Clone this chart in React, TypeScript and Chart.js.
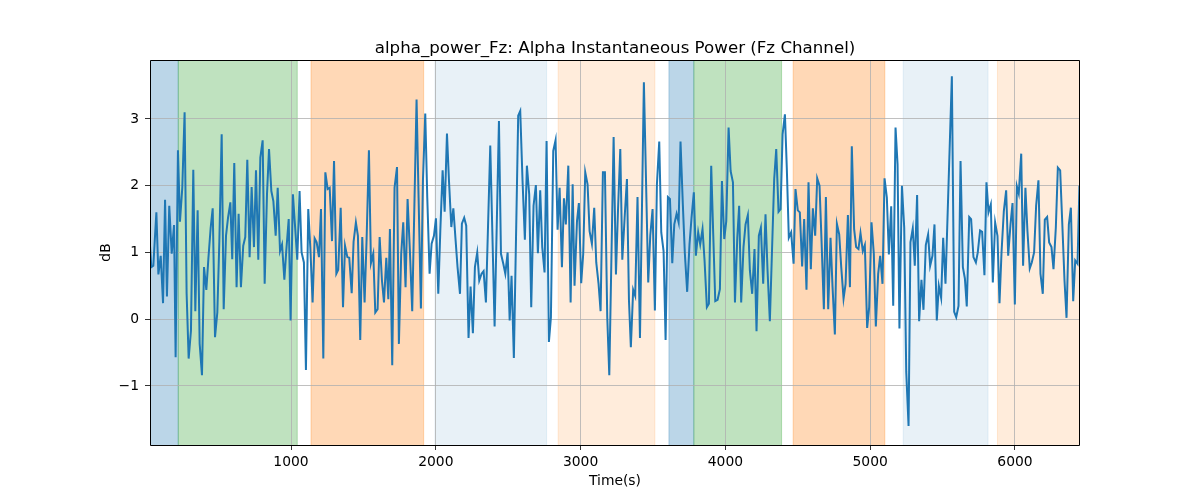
import React, { useEffect, useRef } from "react";
import { Chart, registerables } from "chart.js";

Chart.register(...registerables);

const timeSec: number[] = [
  26, 35, 49, 70, 84, 100, 116, 130, 143, 159, 176, 192, 203, 219, 233, 249, 265, 279, 293, 309,
  325, 339, 355, 369, 385, 399, 415, 429, 445, 459, 475, 491, 505, 521, 535, 551, 565, 581, 594, 608,
  624, 638, 654, 670, 684, 698, 714, 728, 744, 758, 774, 788, 804, 818, 834, 848,
  864, 878, 894, 908, 924, 938, 954, 967, 984, 997, 1013, 1027, 1043, 1059, 1073, 1089, 1103, 1119, 1133, 1149,
  1163, 1177, 1193, 1207, 1223, 1237, 1253, 1267, 1283, 1297, 1313, 1326, 1343, 1359, 1373, 1389, 1402, 1419, 1432, 1448,
  1462, 1478, 1492, 1508, 1522, 1538, 1552, 1568, 1582, 1598, 1612, 1628, 1642, 1658, 1672, 1683,
  1699, 1715, 1732, 1745, 1761, 1775, 1791, 1805, 1821, 1837, 1867, 1881, 1897, 1911, 1927, 1941, 1957, 1971, 1987, 2001,
  2017, 2031, 2047, 2061, 2077, 2091, 2107, 2121, 2137, 2150, 2167, 2180, 2196, 2210, 2226, 2240, 2256, 2270, 2286, 2300,
  2316, 2330, 2346, 2376, 2406, 2436, 2450, 2466, 2480, 2496, 2510,
  2523, 2539, 2569, 2583, 2599, 2615, 2629, 2645, 2659, 2675, 2691, 2705, 2721, 2735, 2751, 2765, 2781, 2795, 2811, 2827,
  2841, 2855, 2871, 2885, 2898, 2915, 2931, 2945, 2958, 2975, 2988, 3004, 3018, 3032, 3048, 3062, 3078, 3094, 3108, 3124,
  3138, 3154, 3168, 3184, 3198, 3228, 3244, 3258, 3274, 3288, 3304, 3320,
  3334, 3347, 3363, 3377, 3393, 3410, 3437, 3467, 3481, 3497, 3513, 3527, 3543, 3557, 3573, 3587, 3603, 3617, 3633, 3647,
  3663, 3677, 3690, 3706, 3720, 3736, 3752, 3766, 3782, 3796, 3812, 3826, 3842, 3856, 3872, 3886, 3902, 3916, 3930, 3946,
  3962, 3976, 3992, 4006, 4022, 4036, 4052, 4066, 4082, 4095, 4109, 4125, 4139, 4155,
  4169, 4185, 4201, 4215, 4231, 4245, 4261, 4277, 4291, 4307, 4337, 4351, 4367, 4381, 4395, 4411, 4424, 4438, 4454, 4471,
  4484, 4500, 4514, 4530, 4544, 4560, 4574, 4590, 4604, 4620, 4634, 4650, 4664, 4680, 4694, 4710, 4726, 4740, 4756, 4770,
  4786, 4800, 4816, 4830, 4846, 4860, 4873, 4889, 4903, 4919, 4933, 4949, 4963, 4979, 4993,
  5009, 5025, 5039, 5055, 5069, 5085, 5099, 5115, 5129, 5145, 5159, 5175, 5189, 5202, 5219, 5235, 5249, 5265, 5278, 5294,
  5308, 5324, 5338, 5354, 5368, 5384, 5400, 5414, 5430, 5444, 5460, 5474, 5490, 5504, 5520, 5564, 5580, 5594, 5610, 5624,
  5640, 5654, 5667, 5684, 5697, 5713, 5730, 5743, 5759, 5773, 5789, 5803, 5817,
  5833, 5847, 5863, 5879, 5893, 5907, 5923, 5939, 5953, 5969, 5983, 5999, 6013, 6026, 6043, 6056, 6072, 6086, 6102, 6116,
  6132, 6146, 6162, 6176, 6192, 6206, 6222, 6236, 6252, 6266, 6282, 6296, 6312, 6326, 6342, 6356, 6372, 6386, 6402, 6416,
  6432, 6445,
];

const alphaPowerDb: number[] = [
  1.1, 0.78, 0.8, 1.6, 0.67, 0.95, 0.24, 1.79, 0.34, 1.7, 0.98, 1.41, -0.57, 2.53, 1.46, 1.97, 3.1, 0.38, -0.59, -0.17,
  2.24, 0.12, 1.63, -0.37, -0.84, 0.78, 0.44, 0.9, 1.37, 1.66, -0.27, 0.1, 1.17, 2.77, 0.15, 1.25, 1.52, 1.75, 0.9, 2.34,
  0.48, 1.58, 0.48, 1.1, 1.23, 2.39, 0.93, 1.98, 1.08, 2.23, 0.89, 2.42, 2.68, 0.53, 1.87, 2.55,
  1.92, 1.77, 1.25, 1.97, 1.02, 1.12, 0.59, 1.02, 1.5, -0.02, 1.87, 1.42, 0.89, 1.92, 1.0, 0.85, -0.76, 1.65, 1.08, 0.25,
  1.21, 1.15, 0.93, 1.65, -0.59, 2.2, 1.95, 1.97, 1.17, 2.37, 0.68, 0.74, 1.67, 0.18, 1.1, 0.93, 0.92, 0.39, 1.16, 1.45,
  1.25, -0.31, 1.23, 0.25, 1.2, 2.53, 0.84, 0.98, 0.1, 0.15, 1.23, 0.58, 0.25, 0.92, 0.3, 1.35,
  -0.69, 1.97, 2.28, -0.37, 0.98, 1.45, 0.48, 1.8, 1.02, 0.12, 3.29, 1.82, 0.16, 2.07, 3.08, 1.82, 0.68, 1.13, 1.25, 1.51,
  0.38, 1.32, 2.23, 1.61, 2.78, 2.07, 1.38, 1.66, 1.17, 0.78, 0.38, 1.43, 1.52, 1.4, -0.28, 0.49, -0.21, 0.78, 1.0, 0.58,
  0.68, 0.72, 0.25, 2.6, -0.11, 2.97, 0.98, 0.83, 0.68, 1.0, -0.02,
  0.65, -0.58, 3.05, 3.12, 2.07, 1.19, 2.3, 1.87, 0.18, 1.7, 2.01, 0.99, 1.93, 1.08, 0.7, 2.67, -0.34, 0.03, 2.52, 2.68,
  1.34, 1.97, 0.78, 1.81, 1.42, 2.3, 0.25, 2.02, 0.5, 1.47, 1.74, 0.54, 0.98, 2.2, 2.02, 1.32, 1.13, 1.67, 0.85, 0.53,
  0.12, 2.2, 2.2, 0.03, -0.84, 2.73, 0.67, 1.62, 2.55, 0.89, 1.52, 2.1,
  0.28, -0.42, 0.44, 0.35, 1.83, -0.28, 3.55, 0.55, 1.25, 1.65, 0.13, 2.02, 2.66, 1.3, 1.02, -0.31, 1.83, 1.8, 0.84, 1.42,
  1.58, 1.45, 2.66, 1.72, 0.98, 0.41, 1.12, 1.52, 1.9, 0.95, 1.3, 1.12, 1.35, 0.88, 0.18, 0.23, 2.3, 1.27, 0.27, 0.29,
  0.45, 2.07, 1.2, 1.47, 2.87, 2.22, 2.05, 0.25, 1.22, 1.7, 0.25, 1.08, 1.42, 1.56,
  0.73, 0.38, 1.05, -0.18, 1.25, 1.37, 0.53, 1.57, 0.73, -0.03, 2.1, 2.55, 1.61, 1.65, 2.77, 3.07, 2.27, 1.22, 1.3, 0.83,
  1.95, 1.63, 1.6, 0.79, 1.5, 0.44, 2.05, 0.75, 1.66, 1.25, 2.11, 2.0, 1.17, 0.15, 1.83, 0.15, 1.22, 0.48, -0.23, 1.43,
  1.27, 0.78, 0.31, 0.53, 1.56, 0.48, 2.59, 1.35, 1.08, 1.05, 1.29, 1.02, 1.11, -0.13, 0.18,
  1.45, 0.98, -0.11, 0.68, 0.95, 0.53, 2.11, 1.82, 0.97, 1.69, 0.2, 2.87, 2.32, -0.14, 2.0, 1.37, -0.79, -1.6, 1.15, 1.36,
  0.8, 1.86, -0.03, 0.59, 0.14, 1.11, 1.27, 0.8, 0.95, 1.42, -0.02, 0.5, 0.32, 1.22, 0.53, 3.64, 0.11, 0.03, 0.2, 2.37,
  0.78, 0.61, 0.19, 1.53, 1.5, 0.93, 0.85, 1.0, 1.33, 1.31, 0.66, 2.05, 1.6,
  1.72, 0.55, 1.45, 1.25, 0.24, 1.0, 1.62, 1.93, 0.95, 1.42, 1.74, 0.22, 1.99, 1.88, 2.48, 0.8, 1.97, 1.32, 0.76, 0.85,
  1.0, 1.7, 2.08, 0.68, 0.38, 1.49, 1.53, 1.15, 1.08, 0.75, 1.37, 2.27, 2.23, 1.47, 0.58, 0.02, 1.42, 1.67, 0.27, 0.88,
  0.83, 2.0,
];

// shaded stage intervals (seconds)
const spanStarts: number[] = [26, 221, 1138, 1994, 2845, 3610, 3782, 4468, 5228, 5879];
const spanEnds: number[] = [221, 1043, 1916, 2765, 3513, 3782, 4388, 5101, 5814, 6449];
const spanColors: string[] = [
  "rgba(31,119,180,0.3)",
  "rgba(44,160,44,0.3)",
  "rgba(255,127,14,0.3)",
  "rgba(31,119,180,0.1)",
  "rgba(255,127,14,0.15)",
  "rgba(31,119,180,0.3)",
  "rgba(44,160,44,0.3)",
  "rgba(255,127,14,0.3)",
  "rgba(31,119,180,0.1)",
  "rgba(255,127,14,0.15)",
];

const xMin = 26;
const xMax = 6449;
const yMin = -1.885;
const yMax = 3.883;
const xTicks: number[] = [1000, 2000, 3000, 4000, 5000, 6000];
const yTicks: number[] = [-1, 0, 1, 2, 3];

const titleText = "alpha_power_Fz: Alpha Instantaneous Power (Fz Channel)";
const FONT = "'DejaVu Sans', sans-serif";
const TICK_SIZE = 13.89;
const TITLE_SIZE = 16.67;

const spansPlugin = {
  id: "spans",
  beforeDraw(chart: any) {
    const { ctx, chartArea, scales } = chart;
    ctx.save();
    ctx.beginPath();
    ctx.rect(chartArea.left, chartArea.top, chartArea.right - chartArea.left, chartArea.bottom - chartArea.top);
    ctx.clip();
    for (let i = 0; i < spanStarts.length; i++) {
      const x0 = scales.x.getPixelForValue(spanStarts[i]);
      const x1 = scales.x.getPixelForValue(spanEnds[i]);
      ctx.fillStyle = spanColors[i];
      ctx.fillRect(x0, chartArea.top, x1 - x0, chartArea.bottom - chartArea.top);
      ctx.strokeStyle = spanColors[i];
      ctx.lineWidth = 1;
      ctx.beginPath();
      ctx.moveTo(x0, chartArea.top);
      ctx.lineTo(x0, chartArea.bottom);
      ctx.moveTo(x1, chartArea.top);
      ctx.lineTo(x1, chartArea.bottom);
      ctx.stroke();
    }
    ctx.restore();
  },
};

const framePlugin = {
  id: "frame",
  afterDraw(chart: any) {
    const { ctx, chartArea } = chart;
    const l = Math.round(chartArea.left) + 0.5;
    const r = Math.round(chartArea.right) - 0.5;
    const t = Math.round(chartArea.top) + 0.5;
    const b = Math.round(chartArea.bottom) + 0.5;
    ctx.save();
    ctx.strokeStyle = "#000";
    ctx.lineWidth = 1;
    ctx.beginPath();
    ctx.moveTo(l, t);
    ctx.lineTo(r, t);
    ctx.lineTo(r, b);
    ctx.lineTo(l, b);
    ctx.closePath();
    ctx.stroke();
    ctx.fillStyle = "#000";
    ctx.font = `${TITLE_SIZE}px ${FONT}`;
    ctx.textAlign = "center";
    ctx.textBaseline = "alphabetic";
    ctx.fillText(titleText, (chartArea.left + chartArea.right) / 2, 53);
    ctx.restore();
  },
};

export default function App() {
  const canvasRef = useRef<HTMLCanvasElement | null>(null);

  useEffect(() => {
    if (!canvasRef.current) return;
    const points = timeSec.map((t, i) => ({ x: t, y: alphaPowerDb[i] }));
    const chart = new Chart(canvasRef.current, {
      type: "line",
      data: {
        datasets: [
          {
            data: points,
            borderColor: "#1f77b4",
            borderWidth: 2,
            pointRadius: 0,
            tension: 0,
            fill: false,
          },
        ],
      },
      plugins: [spansPlugin, framePlugin],
      options: {
        animation: false,
        responsive: false,
        devicePixelRatio: 1,
        layout: { padding: { top: 60, right: 120, left: 0, bottom: 0 } },
        plugins: {
          legend: { display: false },
          title: { display: false },
          tooltip: { enabled: false },
        },
        scales: {
          x: {
            type: "linear",
            min: xMin,
            max: xMax,
            afterFit(scale: any) {
              scale.height = 55;
            },
            afterBuildTicks(scale: any) {
              scale.ticks = xTicks.map((v) => ({ value: v }));
            },
            ticks: {
              color: "#000",
              font: { family: FONT, size: TICK_SIZE },
              padding: 4,
              maxRotation: 0,
              autoSkip: false,
              callback: (v: any) => String(v),
            },
            grid: {
              color: "#b0b0b0",
              lineWidth: 0.8,
              tickColor: "#000",
              tickLength: 5,
              tickWidth: 0.8,
            },
            border: { display: false },
            title: {
              display: true,
              text: "Time(s)",
              color: "#000",
              font: { family: FONT, size: TICK_SIZE },
              padding: { top: 0, bottom: 10 },
            },
          },
          y: {
            type: "linear",
            min: yMin,
            max: yMax,
            afterFit(scale: any) {
              scale.width = 150;
            },
            afterBuildTicks(scale: any) {
              scale.ticks = yTicks.map((v) => ({ value: v }));
            },
            ticks: {
              color: "#000",
              font: { family: FONT, size: TICK_SIZE },
              padding: 6,
              autoSkip: false,
              callback: (v: any) => String(v).replace("-", "\u2212"),
            },
            grid: {
              color: "#b0b0b0",
              lineWidth: 0.8,
              tickColor: "#000",
              tickLength: 5,
              tickWidth: 0.8,
            },
            border: { display: false },
            title: {
              display: true,
              text: "dB",
              color: "#000",
              font: { family: FONT, size: TICK_SIZE },
              padding: { top: 98, bottom: 0 },
            },
          },
        },
      },
    });
    return () => chart.destroy();
  }, []);

  return (
    <div style={{ position: "absolute", left: 0, top: 0, width: 1200, height: 500, background: "#fff" }}>
      <canvas ref={canvasRef} width={1200} height={500} />
    </div>
  );
}
